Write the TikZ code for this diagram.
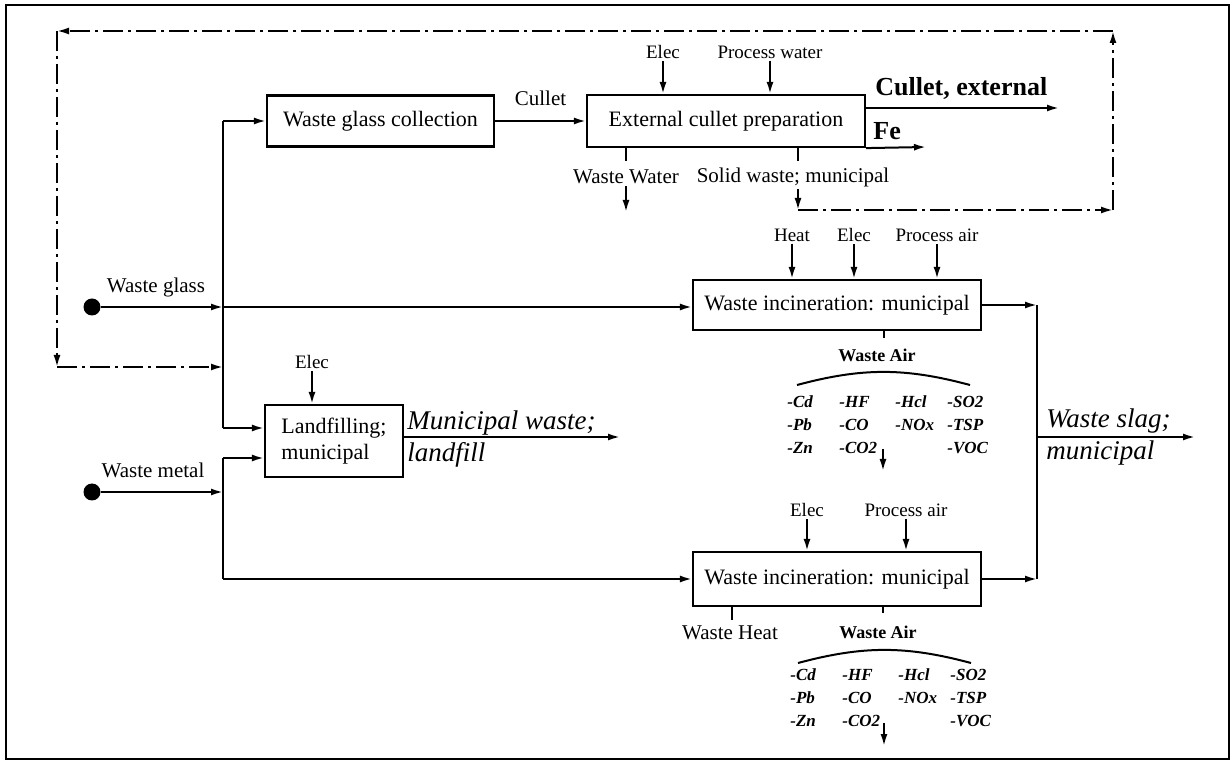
\documentclass[tikz,border=0pt]{standalone}
\usepackage{fontspec}
\setmainfont{Liberation Serif}
\usetikzlibrary{arrows.meta}

% emission list under each incinerator
\newcommand{\emissions}{%
  \begin{tabular}{@{}p{26pt}@{}p{28pt}@{}p{26pt}@{}l@{}}
    -Cd & -HF  & -Hcl & -SO2\\
    -Pb & -CO  & -NOx & -TSP\\
    -Zn & -CO2 &      & -VOC
  \end{tabular}}

\begin{document}
\begin{tikzpicture}[x=0.5pt, y=-0.5pt,
  box/.style={draw, line width=1.1pt, font=\fontsize{11}{13}\selectfont, inner sep=2pt},
  lbl/.style={font=\fontsize{10.5}{12}\selectfont, inner sep=1pt},
  inlbl/.style={font=\fontsize{9.5}{11}\selectfont, inner sep=1pt},
  outlbl/.style={font=\fontsize{13}{16}\selectfont\bfseries, inner sep=1pt},
  slaglbl/.style={font=\fontsize{13.5}{16}\selectfont\itshape, align=left, inner sep=1pt},
  airlbl/.style={font=\fontsize{9}{11}\selectfont\bfseries, inner sep=1pt},
  gaslist/.style={font=\fontsize{8.5}{11.5}\selectfont\bfseries\itshape, inner sep=0pt},
  flow/.style={line width=1pt},
  arr/.style={flow, -{Latex[length=6pt, width=3.5pt]}},
  loopback/.style={arr, dash pattern=on 10pt off 2.5pt on 1.5pt off 2.5pt},
  dot/.style={circle, fill, inner sep=0pt, minimum size=8.5pt}
]
  \useasboundingbox (0,0) rectangle (1232,764);
  \draw[line width=1.2pt] (6,5) rectangle (1229,759);

  % process boxes
  \node[box, minimum width=113.5pt, minimum height=25.5pt] (collect) at (380.5,121) {Waste glass collection};
  \node[box, minimum width=139pt, minimum height=26pt]     (prep)    at (726,121)   {External cullet preparation};
  \node[box, minimum width=144pt, minimum height=25pt]     (burnA)   at (837,305)   {Waste incineration: municipal};
  \node[box, minimum width=144pt, minimum height=27pt]     (burnB)   at (837,579)   {Waste incineration: municipal};
  \node[box, minimum width=69pt, minimum height=36pt, align=left] (landf) at (334,441) {Landfilling;\\municipal};

  % sources
  \node[dot] (glass) at (92,307) {};
  \node[dot] (metal) at (92,492) {};
  \node[lbl] (glassL) at (156,287) {Waste glass};
  \node[lbl] (metalL) at (153,470) {Waste metal};

  \coordinate (trunkTop) at (223,121);
  \coordinate (glassJ)   at (223,307);
  \coordinate (loopJ)    at (223,367);
  \coordinate (landJ)    at (223,428);
  \coordinate (metalTop) at (223,458);
  \coordinate (metalJ)   at (223,492);
  \coordinate (metalBot) at (223,579);

  \draw[flow] (trunkTop) -- (landJ);
  \draw[arr] (trunkTop) -- (collect.west);
  \draw[arr] (landJ) -- (landJ -| landf.west);
  \draw[arr] (glass) -- (glassJ);
  \draw[arr] (glassJ) -- (glassJ -| burnA.west);
  \draw[flow] (metalTop) -- (metalBot);
  \draw[arr] (metal) -- (metalJ);
  \draw[arr] (metalTop) -- (metalTop -| landf.west);
  \draw[arr] (metalBot) -- (burnB.west);

  % cullet preparation
  \draw[arr] (collect) -- (prep) node[lbl, midway, above=6pt] (culletL) {Cullet};
  \node[inlbl] (prepElec)  at (663,52) {Elec};
  \node[inlbl] (prepWater) at (770,52) {Process water};
  \draw[arr] (prepElec) -- (prepElec |- prep.north);
  \draw[arr] (prepWater) -- (prepWater |- prep.north);

  \coordinate (culletEnd) at (1059,108);
  \coordinate (feEnd) at (926,147);
  \draw[arr] (prep.east |- culletEnd) -- (culletEnd);
  \node[outlbl, anchor=west] (culletExt) at (873,88) {Cullet, external};
  \draw[arr] (prep.south east) -- (feEnd);
  \node[outlbl, anchor=west] (fe) at (871,131) {Fe};

  \node[lbl] (wwL) at (626,177) {Waste Water};
  \coordinate (wwEnd) at (626,212);
  \draw[flow] (prep.south -| wwL) -- ++(0,13);
  \draw[arr] (wwL) -- (wwEnd);

  \node[lbl] (swL) at (793,177) {Solid waste; municipal};
  \coordinate (swEnd) at (798,210);
  \draw[flow] (prep.south -| swEnd) -- ++(0,13);
  \draw[arr] (swL.south -| swEnd) -- (swEnd);

  % loop back of solid waste
  \coordinate (loopSE) at (1113,210);
  \coordinate (loopNE) at (1113,31);
  \coordinate (loopNW) at (57,31);
  \coordinate (loopSW) at (57,367);
  \draw[loopback] (swEnd) -- (loopSE);
  \draw[loopback] (loopSE) -- (loopNE);
  \draw[loopback] (loopNE) -- (loopNW);
  \draw[loopback] (loopNW) -- (loopSW);
  \draw[loopback] (loopSW) -- (loopJ);

  % upper incineration
  \node[inlbl] (aHeat) at (792,235) {Heat};
  \node[inlbl] (aElec) at (854,235) {Elec};
  \node[inlbl] (aAir)  at (937,235) {Process air};
  \draw[arr] (aHeat) -- (aHeat |- burnA.north);
  \draw[arr] (aElec) -- (aElec |- burnA.north);
  \draw[arr] (aAir) -- (aAir |- burnA.north);

  \node[airlbl] (aAirOut) at (877,355) {Waste Air};
  \coordinate (aGas) at (884,338);
  \draw[flow] (burnA.south -| aGas) -- (aGas);
  \coordinate (aArcL) at (797,385);
  \coordinate (aArcR) at (970,385);
  \draw[flow] (aArcL) to[bend left=15] (aArcR);
  \node[gaslist, anchor=west] (aGasList) at (787,426) {\emissions};
  \coordinate (aDownTop) at (883,449);
  \coordinate (aDown) at (883,471);
  \draw[arr] (aDownTop) -- (aDown);

  % lower incineration
  \node[inlbl] (bElec) at (807,510) {Elec};
  \node[inlbl] (bAir)  at (906,510) {Process air};
  \draw[arr] (bElec) -- (bElec |- burnB.north);
  \draw[arr] (bAir) -- (bAir |- burnB.north);

  \node[lbl] (bHeatOut) at (730,633) {Waste Heat};
  \coordinate (bHeat) at (732,620);
  \draw[flow] (burnB.south -| bHeat) -- (bHeat);
  \node[airlbl] (bAirOut) at (878,632) {Waste Air};
  \coordinate (bGas) at (883,613);
  \draw[flow] (burnB.south -| bGas) -- (bGas);
  \coordinate (bArcL) at (798,663);
  \coordinate (bArcR) at (971,663);
  \draw[flow] (bArcL) to[bend left=15] (bArcR);
  \node[gaslist, anchor=west] (bGasList) at (790,699) {\emissions};
  \coordinate (bDownTop) at (884,723);
  \coordinate (bDown) at (884,746);
  \draw[arr] (bDownTop) -- (bDown);

  % slag and landfill outputs
  \coordinate (slagTop) at (1037,305);
  \coordinate (slagBot) at (1037,579);
  \coordinate (slagJ)   at (1037,437);
  \coordinate (slagEnd) at (1195,437);
  \draw[arr] (burnA.east) -- (slagTop);
  \draw[arr] (burnB.east) -- (slagBot);
  \draw[flow] (slagTop) -- (slagBot);
  \draw[arr] (slagJ) -- (slagEnd);
  \node[slaglbl, anchor=west] (slag) at (1044,437) {Waste slag;\\municipal};

  \node[inlbl] (lElec) at (312,362) {Elec};
  \draw[arr] (lElec) -- (lElec |- landf.north);
  \coordinate (landEnd) at (620,437);
  \draw[arr] (landf.east |- landEnd) -- (landEnd);
  \node[slaglbl, anchor=west] (landOut) at (405,439) {Municipal waste;\\landfill};
\end{tikzpicture}
\end{document}
